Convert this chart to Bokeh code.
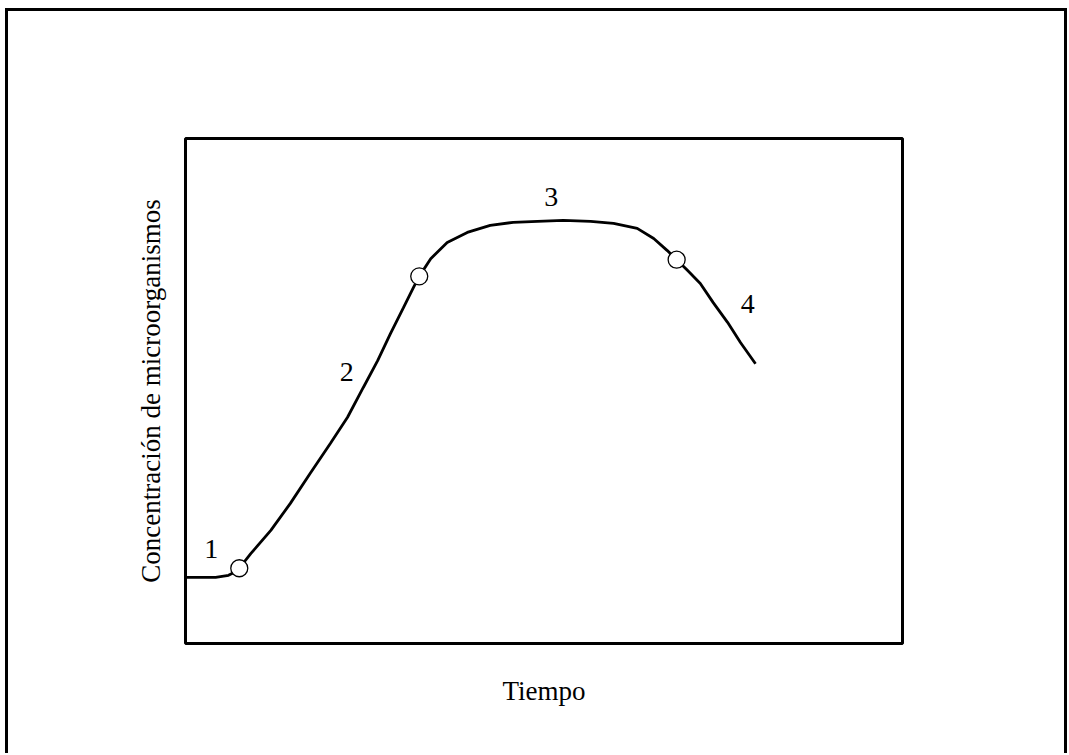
from bokeh.plotting import figure
from bokeh.models import Range1d, FixedTicker
from bokeh.core.properties import value
from bokeh.embed import file_html
from bokeh.resources import INLINE

# Curva de crecimiento (unidades arbitrarias, 0-100)
tiempo = [0.0, 2.1, 4.2, 6.0, 7.1, 7.5, 9.1, 11.9, 14.6, 17.4, 20.2, 22.6, 24.8,
          26.8, 28.6, 30.4, 31.8, 32.6, 34.2, 36.5, 39.3, 42.5, 45.7, 49.1, 52.7,
          56.5, 59.7, 63.0, 65.3, 67.2, 68.5, 70.0, 71.8, 73.6, 75.6, 77.4, 79.5]
concentracion = [13.1, 13.1, 13.1, 13.5, 14.3, 14.9, 17.8, 22.4, 27.7, 33.7, 39.6,
                 44.8, 50.7, 56.0, 61.4, 66.5, 70.5, 72.7, 76.2, 79.4, 81.4, 82.8,
                 83.4, 83.6, 83.8, 83.6, 83.2, 82.2, 80.2, 77.8, 76.0, 73.9, 71.3,
                 67.5, 63.6, 59.6, 55.4]

# Puntos de cambio de fase
tiempo_cambio = [7.5, 32.6, 68.5]
conc_cambio = [14.9, 72.7, 76.0]

# Etiquetas de fase
fase = ["1", "2", "3", "4"]
fase_x = [3.6, 22.5, 51.0, 78.4]
fase_y = [18.8, 53.7, 88.5, 67.3]

FONT = "Liberation Serif"

p = figure(frame_width=717, frame_height=505,
           min_border_left=180, min_border_top=130,
           min_border_right=165, min_border_bottom=110,
           x_range=Range1d(0, 100), y_range=Range1d(0, 100),
           output_backend="svg", toolbar_location=None)
p.margin = (8, 0, 0, 5)

p.border_fill_color = None
p.background_fill_color = None
p.outline_line_color = "black"
p.outline_line_width = 3
p.grid.visible = False
p.styles = {"box-shadow": "inset 3px 3px 0 0 #000, inset -3px 0 0 0 #000"}

for ax in (p.xaxis[0], p.yaxis[0]):
    ax.ticker = FixedTicker(ticks=[])
    ax.axis_line_color = None
    ax.major_tick_line_color = None
    ax.minor_tick_line_color = None
    ax.axis_label_text_font = FONT
    ax.axis_label_text_font_size = "27px"
    ax.axis_label_text_font_style = "normal"
    ax.axis_label_text_color = "black"

p.xaxis.axis_label = "Tiempo"
p.xaxis.axis_label_standoff = 32
p.yaxis.axis_label = "Concentración de microorganismos"
p.yaxis.axis_label_standoff = 20

p.line(tiempo, concentracion, line_color="black", line_width=2.8)
p.scatter(tiempo_cambio, conc_cambio, size=17, marker="circle",
          fill_color="white", line_color="black", line_width=1.3)
p.text(fase_x, fase_y, text=fase, text_font=value(FONT), text_font_size="28px",
       text_align="center", text_baseline="middle", text_color="black")

open("out.html", "w").write(file_html(p, INLINE))
